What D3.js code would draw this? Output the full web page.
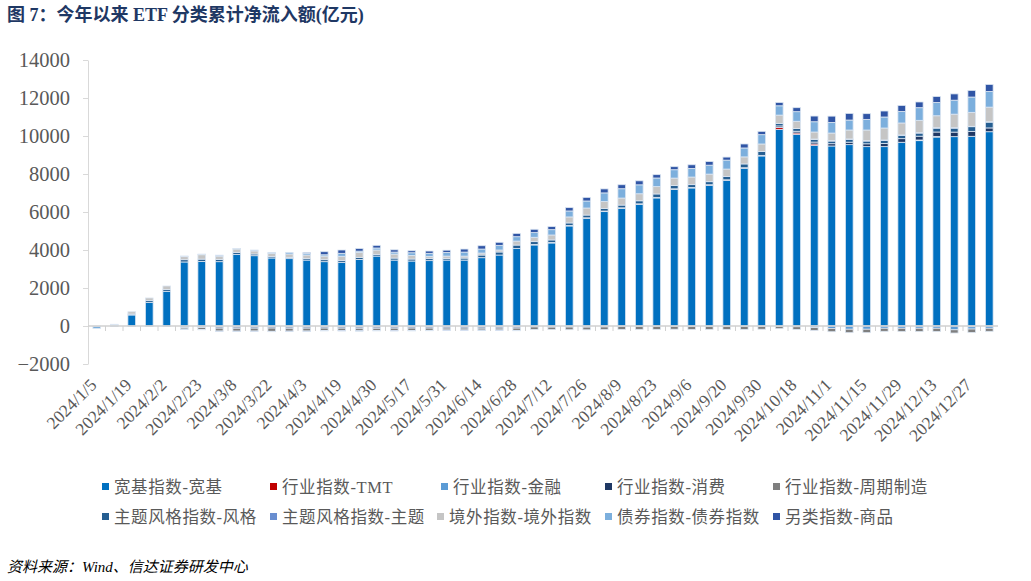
<!DOCTYPE html>
<html>
<head>
<meta charset="utf-8">
<script src="https://cdn.jsdelivr.net/npm/d3@7"></script>
<style>
  body { margin:0; background:#fff; }
  svg text { font-family: "Liberation Serif", "Noto Sans CJK SC", serif; }
</style>
</head>
<body>
<div id="plot"></div>
<script>
// ETF 分类累计净流入额 (亿元), weekly

var dates = ['2024/1/5','2024/1/12','2024/1/19','2024/1/26','2024/2/2','2024/2/8','2024/2/23','2024/3/1','2024/3/8','2024/3/15',
  '2024/3/22','2024/3/29','2024/4/3','2024/4/12','2024/4/19','2024/4/26','2024/4/30','2024/5/10','2024/5/17','2024/5/24',
  '2024/5/31','2024/6/7','2024/6/14','2024/6/21','2024/6/28','2024/7/5','2024/7/12','2024/7/19','2024/7/26','2024/8/2',
  '2024/8/9','2024/8/16','2024/8/23','2024/8/30','2024/9/6','2024/9/13','2024/9/20','2024/9/27','2024/9/30','2024/10/11',
  '2024/10/18','2024/10/25','2024/11/1','2024/11/8','2024/11/15','2024/11/22','2024/11/29','2024/12/6','2024/12/13','2024/12/20',
  '2024/12/27','2024/12/31'];

var seriesNames = ['宽基指数-宽基','行业指数-TMT','行业指数-金融','行业指数-消费','行业指数-周期制造',
  '主题风格指数-风格','主题风格指数-主题','境外指数-境外指数','债券指数-债券指数','另类指数-商品'];

var colors = ['#0070c0','#c00000','#5b9bd5','#1f3864','#7f7f7f','#255e91','#698ed0','#c5c5c5','#7cafdd','#3055a5'];

var kuanji = [-20,10,580,1245,1825,3370,3400,3385,3770,3700,3580,3545,3470,3385,3350,3505,3680,3470,3420,3440,
  3470,3470,3595,3735,4085,4265,4370,5265,5665,6020,6190,6400,6740,7190,7265,7405,7665,8300,8950,10350,
  10090,9510,9475,9545,9440,9440,9670,9755,9945,9965,9985,10225];
var tmt = [0,0,0,0,0,0,0,-35,-40,-35,-30,-40,-35,-30,-35,-40,-40,-35,-30,-30,
  -30,-30,-35,-30,-30,-20,-30,-25,-30,-20,0,0,0,0,0,0,0,0,0,100,
  70,70,0,0,0,0,0,35,35,0,-40,0];
var jinrong = [0,-30,-30,-30,-30,-20,-20,-20,-20,-20,-20,-20,-20,-20,-20,-20,-20,-20,-20,-20,
  -20,-20,-20,-20,-20,-30,-30,-30,-30,-30,-30,-30,-30,-30,-30,-30,-30,-30,-30,-30,
  -40,-80,-130,-170,-170,-120,-120,-120,-120,-200,-120,-120];
var xiaofei = [0,0,0,0,0,-60,-60,-60,-60,-60,-60,-60,-60,-60,-60,-60,-60,-60,-60,-60,
  -60,-60,-60,-60,-60,30,30,30,30,30,30,30,30,30,30,30,30,30,30,80,
  90,100,120,130,150,170,190,200,230,240,260,200];
var zhouqi = [0,0,0,0,0,-80,-100,-150,-150,-150,-170,-150,-150,-130,-130,-130,-120,-130,-130,-120,
  -100,-100,-100,-100,-120,-130,-130,-140,-140,-140,-150,-150,-150,-140,-150,-150,-150,-150,-140,-110,
  -140,-150,-170,-180,-180,-160,-170,-170,-170,-170,-180,-160];
var fengge = [0,0,50,90,90,120,120,120,105,90,70,70,90,105,90,105,90,105,105,105,
  90,105,140,160,175,145,130,130,145,130,145,160,180,180,145,160,180,200,200,130,
  140,140,140,150,145,160,175,165,205,210,245,305];
var zhuti = [0,0,0,0,0,-20,-20,-20,-20,-20,-20,-20,-20,-20,-20,-20,-20,-20,-20,-20,
  -20,-20,-20,-20,-20,0,0,0,0,0,0,0,0,0,0,0,0,0,0,0,
  0,20,20,20,20,20,20,20,20,20,20,20];
var jingwai = [0,40,120,140,190,160,230,175,175,160,175,175,175,190,230,260,230,210,190,120,
  120,105,105,105,210,230,260,315,370,370,370,370,385,385,400,400,385,370,400,440,
  385,370,400,470,560,630,630,650,630,715,735,770];
var zhaiquan = [-110,40,0,0,0,35,35,50,35,50,50,85,85,70,155,70,105,105,140,160,
  190,210,210,245,230,245,280,315,370,455,490,470,455,440,455,470,470,470,490,490,
  505,540,560,525,560,580,610,665,700,735,805,825];
var shangpin = [0,0,0,0,0,0,0,0,0,0,0,0,50,160,175,140,140,120,105,120,
  120,160,175,160,175,175,160,175,190,210,210,210,175,160,190,190,160,210,175,175,
  210,300,330,350,300,315,315,300,315,330,350,370];

var yTicks = [-2000,0,2000,4000,6000,8000,10000,12000,14000];

var values = [kuanji,tmt,jinrong,xiaofei,zhouqi,fengge,zhuti,jingwai,zhaiquan,shangpin];

var W = 1031, H = 581;
var margin = {t:60,r:33,b:217,l:88};
var width = W-margin.l-margin.r,
	height = H-margin.t-margin.b;

var svg = d3.select('#plot')
	.append('svg')
	.attr('width',W)
	.attr('height',H);

// title + source
svg.append('text')
	.attr('x',7).attr('y',21)
	.attr('font-size',18).attr('font-weight','bold')
	.attr('fill','#1f3864')
	.text('图 7：今年以来 ETF 分类累计净流入额(亿元)');

svg.append('text')
	.attr('x',7).attr('y',572)
	.attr('font-size',15).attr('font-style','italic')
	.attr('fill','#000')
	.text('资料来源：Wind、信达证券研发中心');

var plot = svg.append('g')
	.attr('transform','translate('+margin.l+','+margin.t+')');

var x = d3.scaleBand().domain(dates).range([0,width]).paddingInner(0.56).paddingOuter(0.28);
var y = d3.scaleLinear().domain([-2000,14000]).range([height,0]);

// build table for stack
var table = dates.map(function(d,i){
	var row = {date:d};
	seriesNames.forEach(function(s,j){ row[s] = values[j][i]; });
	return row;
});

var stack = d3.stack().keys(seriesNames).offset(d3.stackOffsetDiverging);
var layers = stack(table);

// y axis
var yAxis = plot.append('g')
	.attr('class','y axis')
	.call(d3.axisLeft(y).tickValues(yTicks).tickFormat(d3.format('d')).tickSize(5).tickSizeOuter(0).tickPadding(13));
yAxis.select('.domain').attr('stroke','#d9d9d9');
yAxis.selectAll('.tick line').attr('stroke','#d9d9d9');
yAxis.selectAll('.tick text')
	.attr('font-size',20.5)
	.attr('fill','#595959')
	.attr('font-family','Liberation Serif');

// bars
plot.selectAll('.layer')
	.data(layers)
	.enter()
	.append('g').attr('class','layer')
	.attr('fill',function(d,i){return colors[i]})
	.selectAll('rect')
	.data(function(d){return d})
	.enter()
	.append('rect')
	.attr('x',function(d){return x(d.data.date)})
	.attr('y',function(d){return y(Math.max(d[0],d[1]))})
	.attr('width',x.bandwidth())
	.attr('height',function(d){return Math.abs(y(d[0])-y(d[1]))})
	.attr('stroke','#dce6f2')
	.attr('stroke-width',0.8);

// zero axis line with category ticks
var xAxis = plot.append('g').attr('class','x axis');
xAxis.append('line')
	.attr('x1',0).attr('x2',width)
	.attr('y1',y(0)).attr('y2',y(0))
	.attr('stroke','#d0d0d0').attr('stroke-width',1.5);
xAxis.selectAll('.xtick')
	.data(dates.slice(1))
	.enter()
	.append('line')
	.attr('x1',function(d){return x(d) - x.step()*x.paddingInner()/2})
	.attr('x2',function(d){return x(d) - x.step()*x.paddingInner()/2})
	.attr('y1',y(0)).attr('y2',y(0)+5)
	.attr('stroke','#d0d0d0');

// category labels (every other one), rotated
plot.selectAll('.xlabel')
	.data(dates.filter(function(d,i){return i%2===0}))
	.enter()
	.append('text')
	.attr('class','xlabel')
	.attr('font-size',17.5)
	.attr('fill','#595959')
	.attr('text-anchor','end')
	.attr('transform',function(d){
		return 'translate('+(x(d)+x.bandwidth()/2+1)+','+(height+22)+') rotate(-45)';
	})
	.text(function(d){return d});

// legend
var legendPos = [
	{x:102,y:487},{x:270,y:487},{x:441,y:487},{x:605,y:487},{x:773,y:487},
	{x:102,y:517},{x:270,y:517},{x:437,y:517},{x:605,y:517},{x:773,y:517}
];
var legend = svg.selectAll('.legend')
	.data(seriesNames)
	.enter()
	.append('g').attr('class','legend')
	.attr('transform',function(d,i){return 'translate('+legendPos[i].x+','+legendPos[i].y+')'});
legend.append('rect')
	.attr('x',0).attr('y',-4)
	.attr('width',7).attr('height',7)
	.attr('fill',function(d,i){return colors[i]});
legend.append('text')
	.attr('x',12).attr('y',6)
	.attr('font-size',16.5)
	.attr('fill','#595959')
	.attr('font-family','"Noto Sans CJK SC", "Liberation Serif", sans-serif')
	.attr('letter-spacing',0.6)
	.text(function(d){return d});

</script>
</body>
</html>
